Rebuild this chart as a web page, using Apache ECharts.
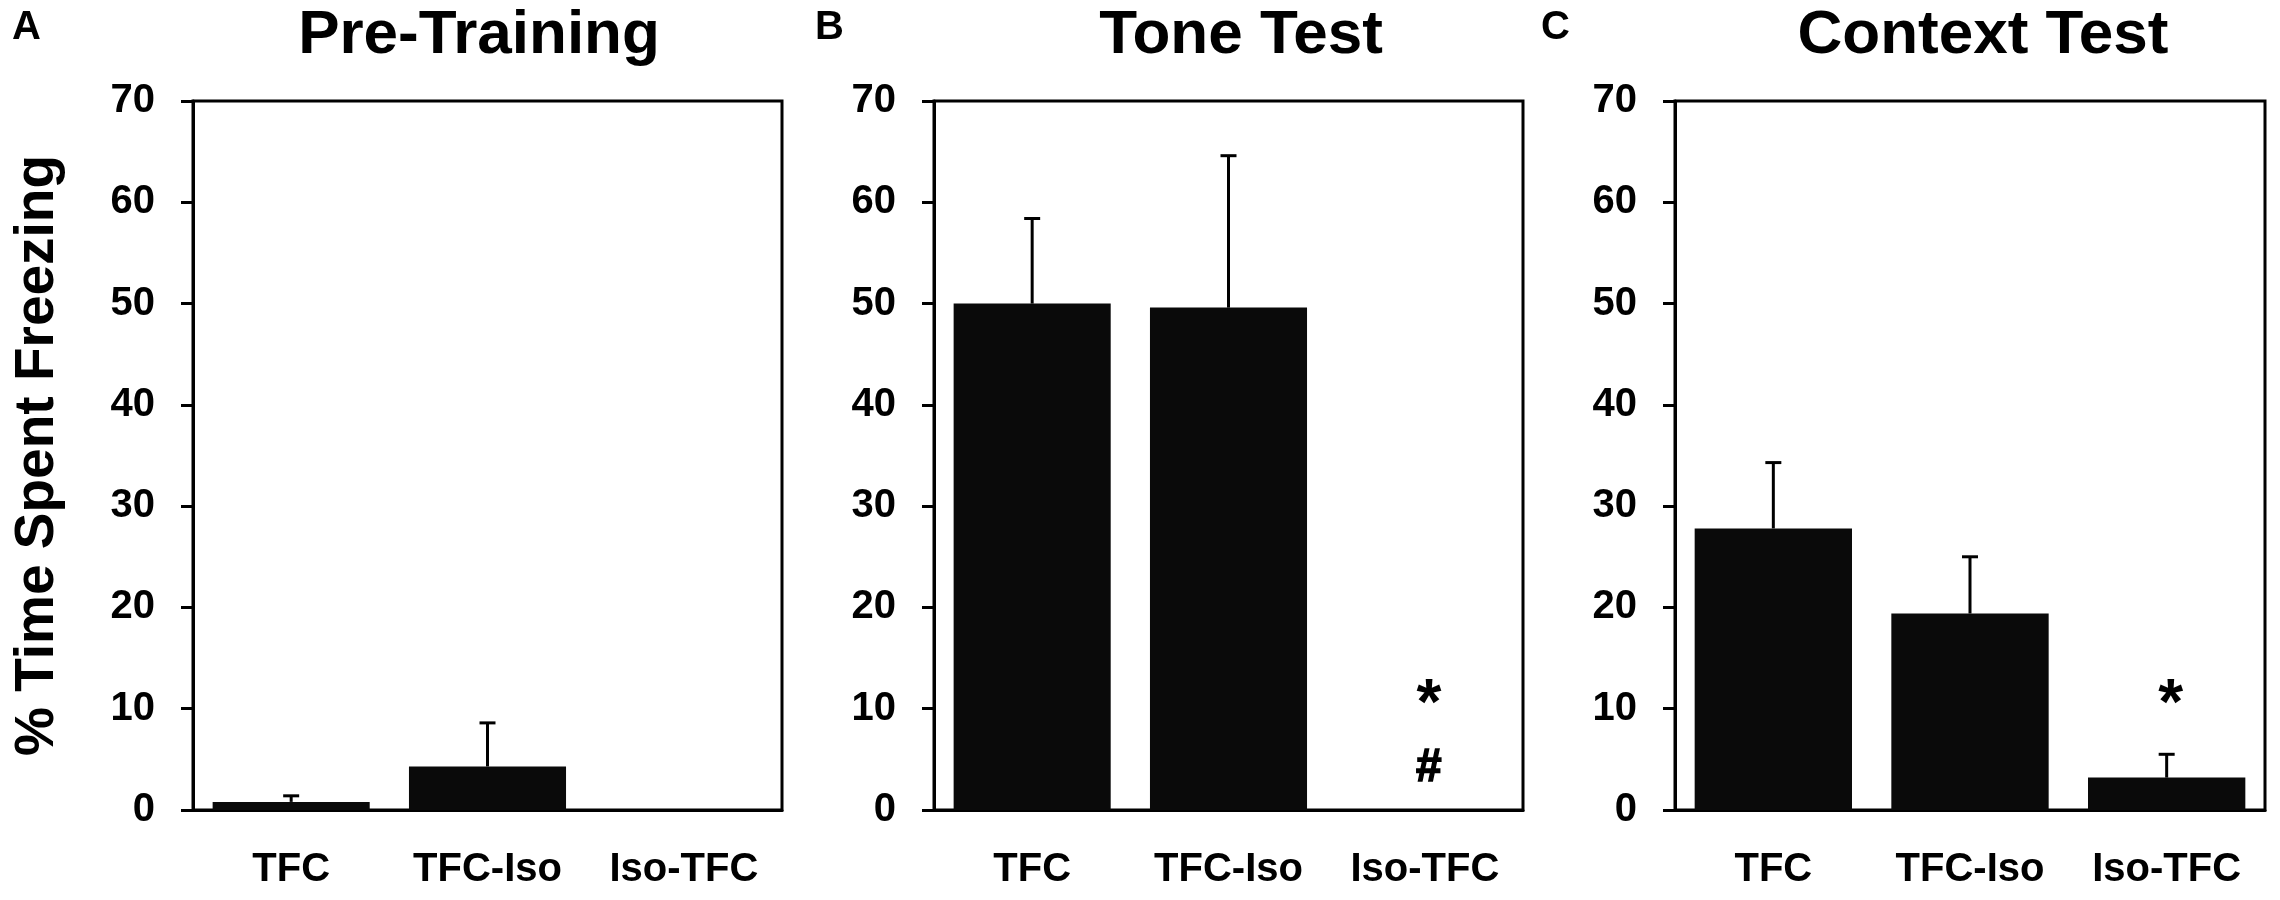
<!DOCTYPE html>
<html>
<head>
<meta charset="utf-8">
<title>Freezing</title>
<script src="https://cdn.jsdelivr.net/npm/echarts@6/dist/echarts.min.js"></script>
<style>
  html, body { margin: 0; padding: 0; background: #fff; }
  #chart { width: 2280px; height: 900px; }
</style>
</head>
<body>
<div id="chart"></div>
<script>
'use strict';
// data
var categories = ['TFC', 'TFC-Iso', 'Iso-TFC'];
var panelTitles = ['Pre-Training', 'Tone Test', 'Context Test'];
var panelLetters = ['A', 'B', 'C'];
var yMin = 0, yMax = 70, yStep = 10;

var preMean = [0.8, 4.3, 0];
var preSem = [0.6, 4.3, 0];
var toneMean = [50.0, 49.6, 0];
var toneSem = [8.4, 15.0, 0];
var contextMean = [27.8, 19.4, 3.2];
var contextSem = [6.5, 5.6, 2.3];

// significance marks (category index, value where the mark sits, glyph)
var toneMarkCat = [2, 2];
var toneMarkValue = [11.6, 4.1];
var toneMarkText = ['*', '#'];
var contextMarkCat = [2];
var contextMarkValue = [11.6];
var contextMarkText = ['*'];

// layout
var FONT = '"Liberation Sans", Arial, sans-serif';
var gridLeft = [193, 934, 1675];
var gridWidth = [589, 589, 590];
var gridTop = 101, gridHeight = 709;
var titleCenter = [479, 1241, 1983];
var letterLeft = [12, 815, 1541];

var means = [preMean, toneMean, contextMean];
var sems = [preSem, toneSem, contextSem];
var marks = [
  { cat: [], value: [], text: [] },
  { cat: toneMarkCat, value: toneMarkValue, text: toneMarkText },
  { cat: contextMarkCat, value: contextMarkValue, text: contextMarkText }
];

var chart = echarts.init(document.getElementById('chart'));

var grids = [], xAxes = [], yAxes = [], series = [], titles = [];

for (var i = 0; i < 3; i++) {
  grids.push({
    left: gridLeft[i], top: gridTop, width: gridWidth[i], height: gridHeight,
    show: true, borderColor: '#000', borderWidth: 3, backgroundColor: 'transparent'
  });
  xAxes.push({
    type: 'category', gridIndex: i, data: categories,
    axisLine: { lineStyle: { color: '#000', width: 3 } },
    axisTick: { show: false },
    axisLabel: { color: '#000', fontFamily: FONT, fontWeight: 'bold', fontSize: 40, margin: 40, interval: 0 }
  });
  var yAxis = {
    type: 'value', gridIndex: i, min: yMin, max: yMax, interval: yStep,
    axisLine: { show: true, lineStyle: { color: '#000', width: 3 } },
    axisTick: { show: true, length: 12, lineStyle: { color: '#000', width: 3 } },
    splitLine: { show: false },
    axisLabel: { color: '#000', fontFamily: FONT, fontWeight: 'bold', fontSize: 40, margin: 38 }
  };
  if (i === 0) {
    yAxis.name = '% Time Spent Freezing';
    yAxis.nameLocation = 'middle';
    yAxis.nameGap = 128;
    yAxis.nameTextStyle = { color: '#000', fontFamily: FONT, fontWeight: 'bold', fontSize: 55 };
  }
  yAxes.push(yAxis);

  series.push({
    type: 'bar', xAxisIndex: i, yAxisIndex: i,
    data: means[i], barCategoryGap: '20%',
    itemStyle: { color: '#0a0a0a' },
    silent: true, animation: false
  });

  // error bars, upper side only
  var errData = [];
  for (var k = 0; k < categories.length; k++) {
    errData.push([k, means[i][k], sems[i][k]]);
  }
  series.push({
    type: 'custom', xAxisIndex: i, yAxisIndex: i, data: errData,
    silent: true, animation: false, z: 3,
    renderItem: function (params, api) {
      var sem = api.value(2);
      if (!sem) return null;
      var lo = api.coord([api.value(0), api.value(1)]);
      var hi = api.coord([api.value(0), api.value(1) + sem]);
      var style = { stroke: '#000', lineWidth: 3 };
      return {
        type: 'group',
        children: [
          { type: 'line', shape: { x1: lo[0], y1: lo[1], x2: hi[0], y2: hi[1] }, style: style },
          { type: 'line', shape: { x1: hi[0] - 8, y1: hi[1], x2: hi[0] + 8, y2: hi[1] }, style: style }
        ]
      };
    }
  });

  // significance marks
  var markData = [];
  for (var m = 0; m < marks[i].cat.length; m++) {
    markData.push([marks[i].cat[m], marks[i].value[m], marks[i].text[m]]);
  }
  if (markData.length) {
    series.push({
      type: 'custom', xAxisIndex: i, yAxisIndex: i, data: markData,
      silent: true, animation: false, z: 4,
      renderItem: function (params, api) {
        var p = api.coord([api.value(0), api.value(1)]);
        var glyph = api.value(2);
        var isStar = glyph === '*';
        var size = isStar ? 64 : 46;
        // the asterisk sits high in its em box, push it down so its centre lands on the value
        var dy = isStar ? size * 0.22 : 0;
        return {
          type: 'text',
          style: {
            x: p[0] + 4, y: p[1] + dy, text: glyph,
            fill: '#000', stroke: '#000', lineWidth: isStar ? 0 : 1.5,
            fontFamily: FONT, fontWeight: 'bold', fontSize: size,
            align: 'center', verticalAlign: 'middle'
          }
        };
      }
    });
  }

  titles.push({
    text: panelTitles[i], left: titleCenter[i], top: 5, textAlign: 'center', padding: 0,
    textStyle: { color: '#000', fontFamily: FONT, fontWeight: 'bold', fontSize: 62 }
  });
  titles.push({
    text: panelLetters[i], left: letterLeft[i], top: 8, padding: 0,
    textStyle: { color: '#000', fontFamily: FONT, fontWeight: 'bold', fontSize: 40 }
  });
}

chart.setOption({
  backgroundColor: '#fff',
  animation: false,
  title: titles,
  grid: grids,
  xAxis: xAxes,
  yAxis: yAxes,
  series: series
});
</script>
</body>
</html>
